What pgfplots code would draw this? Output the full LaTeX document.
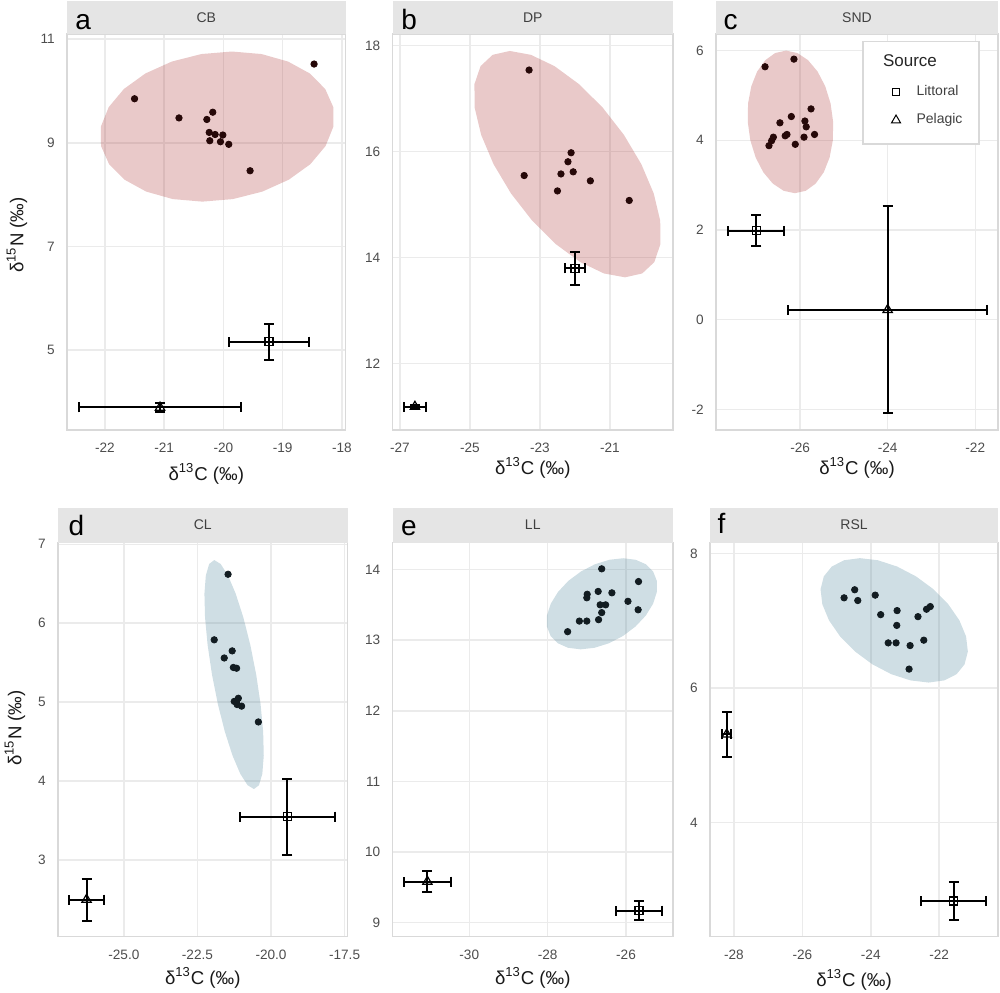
\documentclass[border=0pt]{standalone}
\usepackage{fontspec}
\setmainfont{Liberation Sans}
\usepackage{pgfplots}
\pgfplotsset{compat=1.18}
\definecolor{gridc}{RGB}{235,235,235}
\definecolor{borderc}{RGB}{217,217,217}
\definecolor{stripc}{RGB}{229,229,229}
\definecolor{tickc}{RGB}{77,77,77}
\definecolor{stripT}{RGB}{64,64,64}
\definecolor{ellRc}{RGB}{182,75,75}
\definecolor{ellBc}{RGB}{95,145,165}
\definecolor{ptR}{RGB}{38,8,8}
\definecolor{ptB}{RGB}{18,28,33}
\pgfplotsset{
  panel/.style={
    scale only axis,
    axis line style={draw=borderc, line width=0.6pt},
    grid=major,
    major grid style={draw=gridc, line width=0.75pt},
    major tick length=0pt,
    ticklabel style={font=\fontsize{6.8}{8}\selectfont, text=tickc},
    xticklabel style={yshift=-3.1pt},
    yticklabel style={xshift=-2.6pt},
  },
  ellR/.style={draw=none, fill=ellRc, fill opacity=0.3, forget plot},
  ellB/.style={draw=none, fill=ellBc, fill opacity=0.3, forget plot},
  consR/.style={only marks, mark=*, mark size=1.6pt, color=ptR, forget plot},
  consB/.style={only marks, mark=*, mark size=1.6pt, color=ptB, forget plot},
  srcbase/.style={only marks, black, forget plot,
    error bars/.cd, x dir=both, x explicit, y dir=both, y explicit,
    error bar style={line width=1pt, black},
    error mark options={rotate=90, line width=1pt, mark size=2.5pt, black}},
  srcL/.style={mark=square, mark size=2pt, mark options={line width=0.6pt}, srcbase},
  srcP/.style={mark=triangle, mark size=2.7pt, mark options={line width=0.6pt}, srcbase},
}
\begin{document}
\begin{tikzpicture}[x=0.5pt,y=0.5pt]
\useasboundingbox (0,0) rectangle (1000,992);
% ---------------- a: CB
\begin{axis}[panel, at={(33.5pt,281pt)}, anchor=south west, width=139.25pt, height=198pt,
  xmin=-22.64, xmax=-17.94, ymin=3.455, ymax=11.10,
  xtick={-22,-21,-20,-19,-18}, xticklabels={-22,-21,-20,-19,-18},
  ytick={5,7,9,11}, yticklabels={5,7,9,11}]
\addplot[ellR] coordinates {(-18.144,9.313) (-18.146,9.688) (-18.282,10.038) (-18.542,10.338) (-18.909,10.568) (-19.357,10.713) (-19.856,10.762) (-20.372,10.713) (-20.871,10.568) (-21.317,10.338) (-21.680,10.038) (-21.936,9.688) (-22.068,9.313) (-22.066,8.938) (-21.930,8.588) (-21.670,8.288) (-21.304,8.058) (-20.855,7.913) (-20.356,7.864) (-19.840,7.913) (-19.342,8.058) (-18.896,8.288) (-18.532,8.588) (-18.276,8.938)};
\addplot[consR] coordinates {(-18.47,10.52) (-21.50,9.85) (-20.75,9.48) (-20.28,9.45) (-20.18,9.59) (-20.24,9.20) (-20.14,9.16) (-20.01,9.15) (-20.23,9.04) (-20.05,9.02) (-19.91,8.97) (-19.55,8.46)};
\addplot[srcL] coordinates {(-19.23,5.16) +- (0.67,0.35)};
\addplot[srcP] coordinates {(-21.07,3.89) +- (1.37,0.08)};
\end{axis}
% ---------------- b: DP
\begin{axis}[panel, at={(196.25pt,281pt)}, anchor=south west, width=140.25pt, height=198pt,
  xmin=-27.21, xmax=-19.2, ymin=10.75, ymax=18.22,
  xtick={-27,-25,-23,-21}, xticklabels={-27,-25,-23,-21},
  ytick={12,14,16,18}, yticklabels={12,14,16,18}]
\addplot[ellR] coordinates {(-20.105,15.765) (-20.603,16.318) (-21.210,16.833) (-21.886,17.275) (-22.585,17.614) (-23.258,17.827) (-23.860,17.900) (-24.350,17.827) (-24.695,17.614) (-24.870,17.275) (-24.865,16.833) (-24.679,16.318) (-24.325,15.765) (-23.827,15.213) (-23.220,14.698) (-22.544,14.255) (-21.845,13.916) (-21.172,13.703) (-20.570,13.630) (-20.080,13.703) (-19.735,13.916) (-19.560,14.255) (-19.565,14.698) (-19.751,15.213)};
\addplot[consR] coordinates {(-23.31,17.54) (-23.45,15.55) (-22.11,15.98) (-22.20,15.81) (-22.40,15.58) (-22.05,15.62) (-22.50,15.26) (-21.56,15.45) (-20.45,15.08)};
\addplot[srcL] coordinates {(-22.0,13.80) +- (0.28,0.31)};
\addplot[srcP] coordinates {(-26.57,11.19) +- (0.31,0.03)};
\end{axis}
% ---------------- c: SND
\begin{axis}[panel, at={(358pt,281pt)}, anchor=south west, width=141pt, height=198pt,
  xmin=-27.92, xmax=-21.48, ymin=-2.46, ymax=6.37,
  xtick={-26,-24,-22}, xticklabels={-26,-24,-22},
  ytick={-2,0,2,4,6}, yticklabels={-2,0,2,4,6},
  legend cell align=left,
  legend style={at={(rel axis cs:0.621,0.881)}, anchor=north west, draw=none, fill=none,
    inner sep=0pt, row sep=3.5pt, font=\fontsize{7}{8.4}\selectfont, text=stripT}]
\addplot[ellR] coordinates {(-25.245,4.410) (-25.304,4.822) (-25.426,5.205) (-25.601,5.534) (-25.819,5.787) (-26.064,5.946) (-26.320,6.000) (-26.569,5.946) (-26.794,5.787) (-26.980,5.534) (-27.114,5.205) (-27.188,4.822) (-27.195,4.410) (-27.136,3.999) (-27.014,3.615) (-26.839,3.286) (-26.621,3.033) (-26.376,2.874) (-26.120,2.820) (-25.871,2.874) (-25.646,3.033) (-25.460,3.286) (-25.326,3.615) (-25.252,3.999)};
\addplot[consR] coordinates {(-26.80,5.64) (-26.14,5.81) (-25.75,4.70) (-26.20,4.53) (-26.46,4.39) (-25.89,4.43) (-25.86,4.30) (-25.67,4.13) (-25.91,4.07) (-26.30,4.13) (-26.34,4.10) (-26.61,4.07) (-26.65,3.99) (-26.71,3.88) (-26.11,3.91)};
\addplot[srcL] coordinates {(-27.00,1.98) +- (0.635,0.345)};
\addplot[srcP] coordinates {(-24.0,0.22) +- (2.27,2.31)};
\filldraw[fill=white, draw=borderc, line width=0.6pt] (rel axis cs:0.5213,0.9806) rectangle (rel axis cs:0.9326,0.7222);
\node[anchor=west, inner sep=0pt, font=\fontsize{8.5}{10}\selectfont, text=black!85] at (rel axis cs:0.591,0.9318) {Source};
\addlegendimage{only marks, mark=square, mark size=1.85pt, black, mark options={line width=0.5pt}}
\addlegendentry{\hspace{6pt}Littoral}
\addlegendimage{only marks, mark=triangle, mark size=2.6pt, black, mark options={line width=0.5pt}}
\addlegendentry{\hspace{6pt}Pelagic}
\end{axis}
% ---------------- d: CL
\begin{axis}[panel, at={(29pt,27.65pt)}, anchor=south west, width=144.75pt, height=197pt,
  xmin=-27.24, xmax=-17.40, ymin=2.03, ymax=7.02,
  xtick={-25,-22.5,-20,-17.5}, xticklabels={-25.0,-22.5,-20.0,-17.5},
  ytick={3,4,5,6,7}, yticklabels={3,4,5,6,7}]
\addplot[ellB] coordinates {(-20.504,5.350) (-20.704,5.725) (-20.942,6.075) (-21.201,6.375) (-21.464,6.606) (-21.713,6.751) (-21.930,6.800) (-22.101,6.751) (-22.215,6.606) (-22.263,6.375) (-22.243,6.075) (-22.155,5.725) (-22.006,5.350) (-21.806,4.975) (-21.568,4.625) (-21.309,4.325) (-21.046,4.094) (-20.797,3.949) (-20.580,3.900) (-20.409,3.949) (-20.295,4.094) (-20.247,4.325) (-20.267,4.625) (-20.355,4.975)};
\addplot[consB] coordinates {(-21.46,6.62) (-21.93,5.79) (-21.32,5.65) (-21.59,5.56) (-21.28,5.44) (-21.17,5.43) (-21.11,5.05) (-21.25,5.01) (-21.15,4.97) (-21.00,4.95) (-20.43,4.75) (-21.18,5.01)};
\addplot[srcL] coordinates {(-19.44,3.55) +- (1.62,0.48)};
\addplot[srcP] coordinates {(-26.27,2.50) +- (0.58,0.265)};
\end{axis}
% ---------------- e: LL
\begin{axis}[panel, at={(196.25pt,27.65pt)}, anchor=south west, width=140.25pt, height=197pt,
  xmin=-31.96, xmax=-24.8, ymin=8.80, ymax=14.38,
  xtick={-30,-28,-26}, xticklabels={-30,-28,-26},
  ytick={9,10,11,12,13,14}, yticklabels={9,10,11,12,13,14}]
\addplot[ellB] coordinates {(-25.309,13.515) (-25.213,13.682) (-25.212,13.838) (-25.306,13.971) (-25.490,14.074) (-25.751,14.138) (-26.070,14.160) (-26.427,14.138) (-26.796,14.074) (-27.153,13.971) (-27.474,13.838) (-27.736,13.682) (-27.921,13.515) (-28.018,13.348) (-28.019,13.193) (-27.924,13.059) (-27.740,12.956) (-27.479,12.892) (-27.160,12.870) (-26.803,12.892) (-26.434,12.956) (-26.077,13.059) (-25.757,13.193) (-25.494,13.348)};
\addplot[consB] coordinates {(-26.62,14.01) (-25.68,13.83) (-26.71,13.69) (-26.36,13.67) (-26.99,13.65) (-27.00,13.60) (-25.95,13.55) (-26.66,13.50) (-26.52,13.50) (-25.69,13.43) (-26.62,13.39) (-27.19,13.27) (-27.00,13.27) (-26.70,13.29) (-27.49,13.12)};
\addplot[srcL] coordinates {(-25.67,9.17) +- (0.58,0.135)};
\addplot[srcP] coordinates {(-31.07,9.58) +- (0.6,0.15)};
\end{axis}
% ---------------- f: RSL
\begin{axis}[panel, at={(355pt,27.65pt)}, anchor=south west, width=144pt, height=197pt,
  xmin=-28.70, xmax=-20.28, ymin=2.30, ymax=8.16,
  xtick={-28,-26,-24,-22}, xticklabels={-28,-26,-24,-22},
  ytick={4,6,8}, yticklabels={4,6,8}]
\addplot[ellB] coordinates {(-21.409,7.005) (-21.734,7.244) (-22.167,7.468) (-22.678,7.659) (-23.232,7.806) (-23.792,7.899) (-24.320,7.930) (-24.779,7.899) (-25.138,7.806) (-25.373,7.659) (-25.468,7.468) (-25.416,7.244) (-25.221,7.005) (-24.896,6.766) (-24.463,6.543) (-23.952,6.351) (-23.398,6.204) (-22.838,6.112) (-22.310,6.080) (-21.851,6.112) (-21.492,6.204) (-21.257,6.351) (-21.162,6.543) (-21.214,6.766)};
\addplot[consB] coordinates {(-24.78,7.34) (-24.47,7.46) (-24.38,7.30) (-23.87,7.38) (-23.71,7.09) (-23.23,7.15) (-23.24,6.93) (-22.62,7.06) (-22.37,7.17) (-22.26,7.21) (-23.49,6.67) (-23.26,6.67) (-22.85,6.63) (-22.45,6.71) (-22.88,6.28)};
\addplot[srcL] coordinates {(-21.57,2.83) +- (0.95,0.28)};
\addplot[srcP] coordinates {(-28.21,5.31) +- (0.13,0.33)};
\end{axis}
% ---------------- strips
\fill[stripc] (67,958) rectangle (345.5,991);
\fill[stripc] (392.5,958) rectangle (673,991);
\fill[stripc] (716,958) rectangle (998,991);
\fill[stripc] (58,449.3) rectangle (347.5,484);
\fill[stripc] (392.5,449.3) rectangle (673,484);
\fill[stripc] (710,449.3) rectangle (998,484);
\begin{scope}[every node/.style={font=\fontsize{7}{8}\selectfont, text=stripT, inner sep=0pt}]
\node at (206.25,974.7) {CB};
\node at (532.75,974.7) {DP};
\node at (857,974.7) {SND};
\node at (202.75,467) {CL};
\node at (532.75,467) {LL};
\node at (854,467) {RSL};
\end{scope}
\begin{scope}[every node/.style={font=\fontsize{14}{16}\selectfont, text=black, inner sep=0pt, anchor=base west}]
\node at (75,962) {a};
\node at (401,962) {b};
\node at (723.3,962.7) {c};
\node at (68.3,457) {d};
\node at (400.7,457) {e};
\node at (717.3,458.7) {f};
\end{scope}
% ---------------- axis titles
\begin{scope}[every node/.style={font=\fontsize{9.3}{11}\selectfont, text=black!90, inner sep=0pt}]
\node at (206.25,518) {δ\textsuperscript{13}C (‰)};
\node at (532.75,524) {δ\textsuperscript{13}C (‰)};
\node at (857,524) {δ\textsuperscript{13}C (‰)};
\node at (202.75,14) {δ\textsuperscript{13}C (‰)};
\node at (532.75,14.3) {δ\textsuperscript{13}C (‰)};
\node at (854,12) {δ\textsuperscript{13}C (‰)};
\node[rotate=90] at (17,757) {δ\textsuperscript{15}N (‰)};
\node[rotate=90] at (15,264) {δ\textsuperscript{15}N (‰)};
\end{scope}
\end{tikzpicture}
\end{document}
